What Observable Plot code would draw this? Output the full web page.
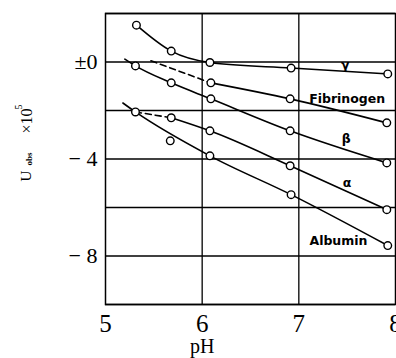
<!DOCTYPE html>
<html>
<head>
<meta charset="utf-8">
<script src="https://cdn.jsdelivr.net/npm/d3@7"></script>
<script src="https://cdn.jsdelivr.net/npm/@observablehq/plot@0.6"></script>
<style>
  html, body { margin: 0; padding: 0; background: #fff; }
  #chart svg { display: block; }
</style>
</head>
<body>
<div id="chart"></div>
<script>
// ---- data ----
const xTicks = [5, 6, 7, 8];
const yGrid = [2, 0, -2, -4, -6, -8, -10];
const yTickValues = [0, -4, -8];
const yTickLabels = ["±0", "− 4", "− 8"];

// gamma globulin
const gammaPH = [5.32, 5.68, 6.08, 6.92, 7.92];
const gammaU  = [1.52, 0.45, -0.02, -0.25, -0.49];
// fibrinogen (solid part, with a dashed lead-in)
const fibPH = [6.09, 6.91, 7.91];
const fibU  = [-0.86, -1.52, -2.51];
const fibDashPH = [5.47, 6.09];
const fibDashU  = [0.05, -0.86];
// beta globulin
const betaLinePH = [5.20, 5.31, 5.68, 6.09, 6.91, 7.91];
const betaLineU  = [0.12, -0.16, -0.86, -1.52, -2.84, -4.16];
const betaPH = [5.31, 5.68, 6.09, 6.91, 7.91];
const betaU  = [-0.16, -0.86, -1.52, -2.84, -4.16];
// alpha globulin (dashed lead-in from 5.31)
const alphaPH = [5.68, 6.08, 6.91, 7.91];
const alphaU  = [-2.30, -2.84, -4.28, -6.09];
const alphaDashPH = [5.31, 5.68];
const alphaDashU  = [-2.06, -2.30];
// albumin
const albLinePH = [5.18, 5.31, 6.08, 6.92, 7.92];
const albLineU  = [-1.69, -2.06, -3.87, -5.47, -7.57];
const albPH = [5.31, 5.67, 6.08, 6.92, 7.92];
const albU  = [-2.06, -3.25, -3.87, -5.47, -7.57];

// curve labels
const labelNames = ["γ", "Fibrinogen", "β", "α", "Albumin"];
const labelPH = [7.48, 7.50, 7.49, 7.50, 7.41];
const labelU  = [-0.12, -1.52, -3.17, -4.98, -7.37];

// ---- build tables ----
const zip = (xs, ys, name) => xs.map((x, i) => ({pH: x, u: ys[i], s: name}));
const solidLines = [
  ...zip(gammaPH, gammaU, "gamma"),
  ...zip(fibPH, fibU, "fib"),
  ...zip(betaLinePH, betaLineU, "beta"),
  ...zip(alphaPH, alphaU, "alpha"),
  ...zip(albLinePH, albLineU, "alb")
];
const dashedLines = [
  ...zip(fibDashPH, fibDashU, "fib"),
  ...zip(alphaDashPH, alphaDashU, "alpha")
];
const points = [
  ...zip(gammaPH, gammaU, "gamma"),
  ...zip(fibPH, fibU, "fib"),
  ...zip(betaPH, betaU, "beta"),
  ...zip(alphaPH, alphaU, "alpha"),
  ...zip(albPH, albU, "alb")
];
const labels = labelNames.map((t, i) => ({t, pH: labelPH[i], u: labelU[i]}));
const yLabels = yTickValues.map((v, i) => ({v, t: yTickLabels[i]}));

const serif = "Liberation Serif, DejaVu Serif, serif";

const chart = Plot.plot({
  width: 396,
  height: 358,
  marginLeft: 105,
  marginRight: 1,
  marginTop: 13,
  marginBottom: 54,
  style: {background: "#fff", overflow: "visible"},
  x: {domain: [5, 8], axis: null},
  y: {domain: [-10, 2], axis: null},
  marks: [
    Plot.ruleY(yGrid, {stroke: "#000", strokeWidth: 1.3}),
    Plot.ruleX([6, 7], {stroke: "#000", strokeWidth: 1.3}),
    Plot.frame({stroke: "#000", strokeWidth: 1.5}),
    Plot.line(solidLines, {x: "pH", y: "u", z: "s", curve: "monotone-x", stroke: "#000", strokeWidth: 1.6}),
    Plot.line(dashedLines, {x: "pH", y: "u", z: "s", stroke: "#000", strokeWidth: 1.6, strokeDasharray: "6,4"}),
    Plot.dot(points, {x: "pH", y: "u", r: 3.8, fill: "#fff", stroke: "#000", strokeWidth: 1.4}),
    Plot.text(labels, {x: "pH", y: "u", text: "t", fontSize: 12.5, fontFamily: "DejaVu Sans, sans-serif", fontWeight: "bold", fill: "#000"}),
    // y tick labels
    Plot.text(yLabels, {x: () => 5, y: "v", text: "t", textAnchor: "end", dx: -8, fontSize: 22, fontFamily: serif, fill: "#000"}),
    // x tick labels
    Plot.text(xTicks, {x: d => d, y: () => -10, dy: 19, text: d => String(d), fontSize: 25, fontFamily: serif, fill: "#000"}),
    // x axis title
    Plot.text(["pH"], {x: () => 6, y: () => -10, dy: 42, text: d => d, fontSize: 20, fontFamily: serif, fill: "#000"}),
    // y axis title pieces (rotated)
    Plot.text(["U"], {frameAnchor: "top-left", dx: -85, dy: 168, rotate: -90, text: d => d, fontSize: 15, fontFamily: serif, fill: "#000"}),
    Plot.text(["obs"], {frameAnchor: "top-left", dx: -80, dy: 152, rotate: -90, text: d => d, fontSize: 9, fontFamily: serif, fontWeight: "bold", fill: "#000"}),
    Plot.text(["×10"], {frameAnchor: "top-left", dx: -85, dy: 120, rotate: -90, text: d => d, fontSize: 16, fontFamily: serif, fill: "#000"}),
    Plot.text(["5"], {frameAnchor: "top-left", dx: -91, dy: 96, rotate: -90, text: d => d, fontSize: 10, fontFamily: serif, fill: "#000"})
  ]
});
document.getElementById("chart").append(chart);
</script>
</body>
</html>
